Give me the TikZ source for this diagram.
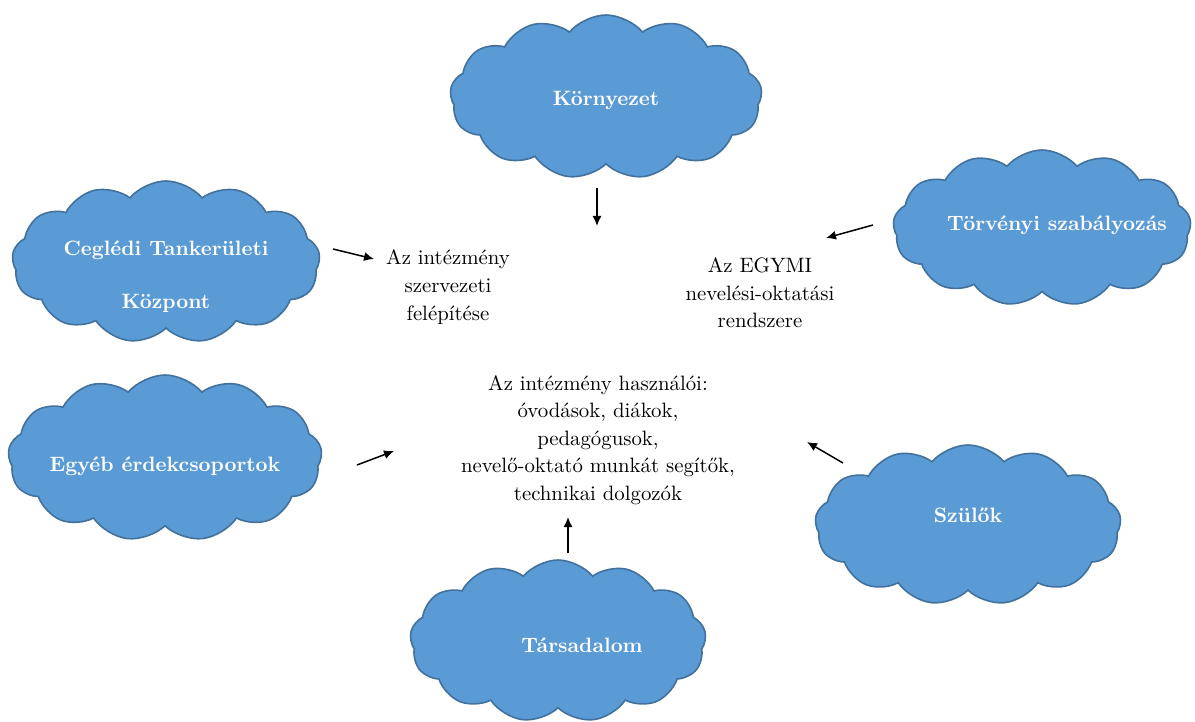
\documentclass[tikz,border=0pt]{standalone}
\usetikzlibrary{shapes.symbols,arrows.meta}
\definecolor{felhokek}{HTML}{5B9BD5}
\definecolor{felhokeret}{HTML}{41719C}
\tikzset{
  felho/.style={cloud, cloud puffs=13, cloud puff arc=100, cloud ignores aspect,
    fill=felhokek, draw=felhokeret, line width=0.8pt, inner sep=0pt},
  felhotxt/.style={text=white, align=center, font=\fontsize{10.4}{26.5}\selectfont\bfseries},
  leiras/.style={align=center, font=\fontsize{10.4}{13.8}\selectfont},
  nyil/.style={-{Latex[length=5pt,width=4.5pt]}, line width=0.75pt}
}
\begin{document}
\begin{tikzpicture}[x=0.5pt,y=-0.5pt]
            \useasboundingbox (0,0) rectangle (1195,722);
            % felhok
            \node[felho, minimum width=156pt, minimum height=82pt,
              label={[felhotxt, yshift=-1.5pt]center:{Környezet}}] (kornyezet) at (606,97) {};
            \node[felho, minimum width=154pt, minimum height=81pt,
              label={[felhotxt, yshift=-7.5pt]center:{Ceglédi Tankerületi\\Központ}}] (cegled) at (166,262) {};
            \node[felho, minimum width=149pt, minimum height=78pt,
              label={[felhotxt, xshift=7.5pt, yshift=1.5pt]center:{Törvényi szabályozás}}] (torveny) at (1042,228) {};
            \node[felho, minimum width=157pt, minimum height=83pt,
              label={[felhotxt, yshift=-4pt]center:{Egyéb érdekcsoportok}}] (egyeb) at (165,458) {};
            \node[felho, minimum width=153pt, minimum height=80pt,
              label={[felhotxt, yshift=5pt]center:{Szülők}}] (szulok) at (968,525) {};
            \node[felho, minimum width=148pt, minimum height=81pt,
              label={[felhotxt, xshift=12pt, yshift=-2pt]center:{Társadalom}}] (tarsad) at (558,641) {};
            % szovegek
            \node[leiras] (szervezet) at (448,287) {Az intézmény\\szervezeti\\felépítése};
            \node[leiras] (egymi) at (760,293) {Az EGYMI\\nevelési-oktatási\\rendszere};
            \node[leiras] (hasznalok) at (598,440) {Az intézmény használói:\\óvodások, diákok,\\pedagógusok,\\nevelő-oktató munkát segítők,\\technikai dolgozók};
            % nyilak
            \coordinate (k1) at (597,188); \coordinate (k2) at (597,226);
            \coordinate (c1) at (333,249); \coordinate (c2) at (374,259);
            \coordinate (t1) at (873,225); \coordinate (t2) at (826,238);
            \coordinate (e1) at (357,465); \coordinate (e2) at (394,451);
            \coordinate (s1) at (843,463); \coordinate (s2) at (807,442);
            \coordinate (a1) at (568,553); \coordinate (a2) at (568,517);
            \draw[nyil] (k1) -- (k2);
            \draw[nyil] (c1) -- (c2);
            \draw[nyil] (t1) -- (t2);
            \draw[nyil] (e1) -- (e2);
            \draw[nyil] (s1) -- (s2);
            \draw[nyil] (a1) -- (a2);
        \end{tikzpicture}
\end{document}
